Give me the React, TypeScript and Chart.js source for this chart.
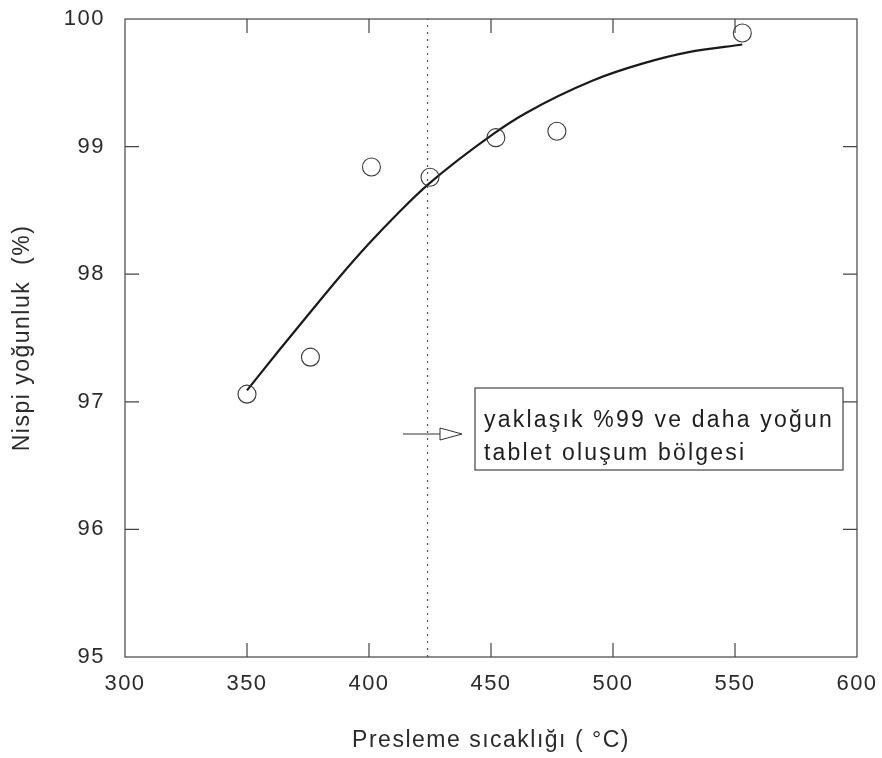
import React, { useEffect, useRef } from "react";
import { Chart, registerables } from "chart.js";

Chart.register(...registerables);

// ---- data ----
const xMin = 300;
const xMax = 600;
const xStep = 50;
const yMin = 95;
const yMax = 100;
const yStep = 1;

const sampleTemps = [350, 376, 401, 425, 452, 477, 553];
const sampleDensity = [97.06, 97.35, 98.84, 98.76, 99.07, 99.12, 99.89];

const fitTemps = [350, 363, 375, 388, 400, 412, 424, 451, 464, 492, 512, 531, 553];
const fitDensity = [97.09, 97.4, 97.68, 97.98, 98.24, 98.48, 98.7, 99.1, 99.26, 99.52, 99.65, 99.74, 99.8];

const boundaryTemp = 424;

const noteLines = ["yaklaşık %99 ve daha yoğun", "tablet oluşum bölgesi"];
const xTitle = "Presleme sıcaklığı ( °C)";
const yTitle = "Nispi yoğunluk  (%)";

const FONT = "'Liberation Sans', Arial, sans-serif";
const INK = "#2b2b2b";

const framePlugin = {
  id: "frameAndNote",
  beforeDraw(chart: any) {
    chart.ctx.letterSpacing = "1.5px";
  },
  afterDraw(chart: any) {
    const ctx = chart.ctx as CanvasRenderingContext2D;
    const { left, right, top, bottom } = chart.chartArea;
    const xs = chart.scales.x;
    const ys = chart.scales.y;
    ctx.save();
    ctx.letterSpacing = "0px";
    // frame
    ctx.strokeStyle = "#444";
    ctx.lineWidth = 1.2;
    ctx.strokeRect(left, top, right - left, bottom - top);
    // inward ticks
    const tl = 14;
    ctx.beginPath();
    for (let v = xMin + xStep; v < xMax; v += xStep) {
      const px = xs.getPixelForValue(v);
      ctx.moveTo(px, bottom);
      ctx.lineTo(px, bottom - tl);
      ctx.moveTo(px, top);
      ctx.lineTo(px, top + tl);
    }
    for (let v = yMin + yStep; v < yMax; v += yStep) {
      const py = ys.getPixelForValue(v);
      ctx.moveTo(left, py);
      ctx.lineTo(left + tl, py);
      ctx.moveTo(right, py);
      ctx.lineTo(right - tl, py);
    }
    ctx.stroke();

    // arrow
    const ay = 434;
    ctx.strokeStyle = "#333";
    ctx.lineWidth = 1;
    ctx.beginPath();
    ctx.moveTo(403, ay);
    ctx.lineTo(440, ay);
    ctx.stroke();
    ctx.beginPath();
    ctx.moveTo(440, ay - 6);
    ctx.lineTo(462, ay);
    ctx.lineTo(440, ay + 6);
    ctx.closePath();
    ctx.stroke();

    // note box
    ctx.strokeStyle = "#444";
    ctx.lineWidth = 1.2;
    ctx.strokeRect(475, 388, 843 - 475, 470 - 388);
    ctx.fillStyle = "#1e1e1e";
    ctx.font = `23px ${FONT}`;
    ctx.textBaseline = "alphabetic";
    ctx.textAlign = "left";
    ctx.letterSpacing = "2.2px";
    ctx.fillText(noteLines[0], 484, 427);
    ctx.fillText(noteLines[1], 484, 460);
    ctx.restore();
    ctx.letterSpacing = "0px";
  },
};

export default function App() {
  const ref = useRef<HTMLCanvasElement | null>(null);

  useEffect(() => {
    document.body.style.margin = "0";
    const canvas = ref.current;
    if (!canvas) return;
    const chart = new Chart(canvas, {
      type: "scatter",
      data: {
        datasets: [
          {
            label: "fit",
            data: fitTemps.map((x, i) => ({ x, y: fitDensity[i] })),
            showLine: true,
            borderColor: "#1a1a1a",
            borderWidth: 2.2,
            pointRadius: 0,
            cubicInterpolationMode: "monotone",
            order: 2,
          } as any,
          {
            label: "samples",
            data: sampleTemps.map((x, i) => ({ x, y: sampleDensity[i] })),
            showLine: false,
            pointStyle: "circle",
            pointRadius: 9,
            pointBorderWidth: 1.1,
            pointBorderColor: "#3a3a3a",
            pointBackgroundColor: "rgba(0,0,0,0)",
            clip: false,
            order: 1,
          } as any,
          {
            label: "boundary",
            data: [
              { x: boundaryTemp, y: yMin },
              { x: boundaryTemp, y: yMax },
            ],
            showLine: true,
            borderColor: "#555",
            borderWidth: 1.2,
            borderDash: [2, 5],
            pointRadius: 0,
            order: 3,
          } as any,
        ],
      },
      options: {
        responsive: false,
        animation: false,
        events: [],
        layout: { padding: { top: 19, right: 25, left: 0, bottom: 0 } },
        plugins: {
          legend: { display: false },
          tooltip: { enabled: false },
        },
        scales: {
          x: {
            type: "linear",
            min: xMin,
            max: xMax,
            grid: { display: false, drawTicks: false },
            border: { display: false },
            ticks: {
              stepSize: xStep,
              padding: 14,
              color: INK,
              font: { family: FONT, size: 22 },
              maxRotation: 0,
            },
            title: {
              display: true,
              text: xTitle,
              color: INK,
              font: { family: FONT, size: 23 },
              padding: { top: 0, bottom: 4 },
            },
            afterFit(scale: any) {
              scale.height = 101;
              scale.paddingLeft = 0;
              scale.paddingRight = 0;
            },
          },
          y: {
            type: "linear",
            min: yMin,
            max: yMax,
            grid: { display: false, drawTicks: false },
            border: { display: false },
            ticks: {
              stepSize: yStep,
              padding: 20,
              color: INK,
              font: { family: FONT, size: 22 },
            },
            title: {
              display: true,
              text: yTitle,
              color: INK,
              font: { family: FONT, size: 23 },
              padding: { top: 9, bottom: 0 },
            },
            afterFit(scale: any) {
              scale.width = 125;
              scale.paddingTop = 0;
              scale.paddingBottom = 0;
            },
          },
        },
      },
      plugins: [framePlugin],
    });
    return () => chart.destroy();
  }, []);

  return (
    <div style={{ position: "absolute", left: 0, top: 0, width: 882, height: 758, background: "#fff" }}>
      <canvas ref={ref} width={882} height={758} />
    </div>
  );
}
